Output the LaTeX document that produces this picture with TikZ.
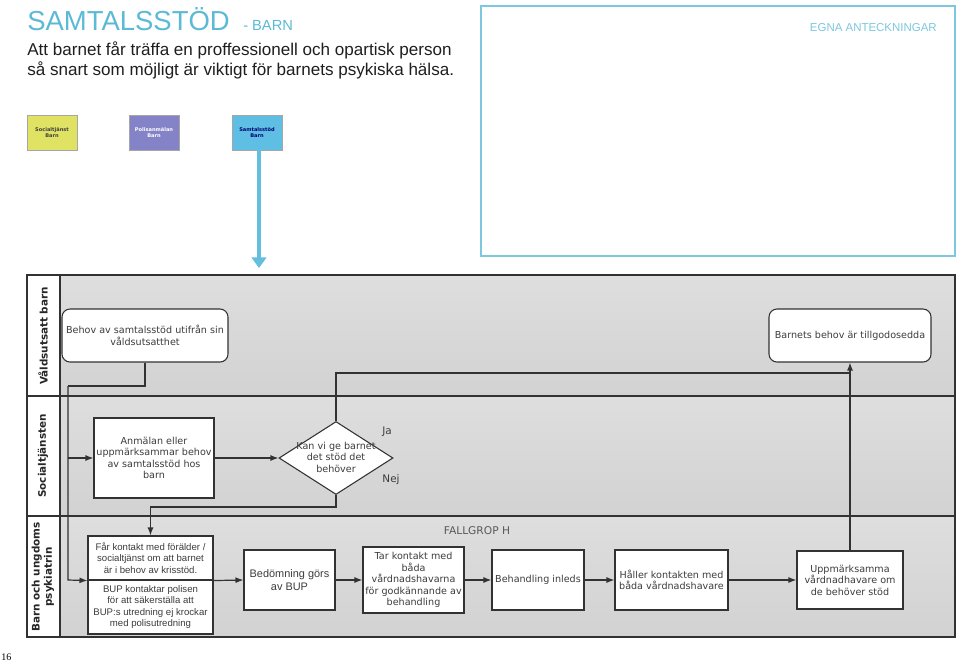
\documentclass[tikz,border=0pt]{standalone}
\usepackage{fontspec}
\setmainfont{Liberation Sans}
\newfontfamily\dv{DejaVu Sans}
\newfontfamily\pgnumfont{Liberation Serif}
\usetikzlibrary{arrows.meta,shapes.geometric,calc}
\definecolor{titleblue}{RGB}{92,186,214}
\definecolor{noteblue}{RGB}{125,200,222}
\definecolor{ylw}{RGB}{224,226,100}
\definecolor{prp}{RGB}{133,131,200}
\definecolor{lblue}{RGB}{95,190,228}
\definecolor{arrblue}{RGB}{100,190,222}
\definecolor{ln}{RGB}{50,50,50}
\definecolor{tx}{RGB}{60,60,60}
\definecolor{laneA}{RGB}{222,222,222}
\definecolor{laneB}{RGB}{246,246,246}
\definecolor{laneC}{RGB}{210,210,210}
\begin{document}
\begin{tikzpicture}[x=0.75pt,y=-0.75pt,
  pw/.style={minimum width=#1*0.75pt},
  ph/.style={minimum height=#1*0.75pt},
  dvf/.style={font=\dv\fontsize{7.2}{8.6}\selectfont},
  arf/.style={font=\fontsize{7.2}{8.6}\selectfont},
  bx/.style={draw=ln, fill=white, line width=0.8pt, inner sep=1pt, align=center, text=tx, dvf},
  rbx/.style={bx, rounded corners=6pt},
  colbox/.style={draw=gray!70, line width=0.5pt, pw=50, ph=35, inner sep=0pt, align=center, text=black!75,
     font=\dv\bfseries\fontsize{3.8}{4.5}\selectfont},
  lanelbl/.style={rotate=90, align=center, text=black!85, font=\dv\bfseries\fontsize{7.8}{9.2}\selectfont},
  laneshade/.style={top color=laneA, middle color=laneB, bottom color=laneC},
  conn/.style={draw=ln, line width=0.9pt},
  arr/.style={conn, -{Latex[length=6pt,width=4.5pt]}},
  lbl/.style={text=tx, font=\dv\fontsize{7.8}{9}\selectfont}
]
\useasboundingbox (0,0) rectangle (960,662);
\fill[white] (0,0) rectangle (960,662);

% header texts
\node[anchor=base west, inner sep=0pt, text=titleblue, font=\fontsize{20.6}{24}\selectfont] (title) at (27,30) {SAMTALSSTÖD};
\node[anchor=base west, inner sep=0pt, text=titleblue, font=\fontsize{11}{13}\selectfont] (sub) at (243,30) {- BARN};
\node[anchor=base west, inner sep=0pt, text=black!88, font=\fontsize{12.8}{15}\selectfont] (intro1) at (27,55)
  {Att barnet får träffa en proffessionell och opartisk person};
\node[anchor=base west, inner sep=0pt, text=black!88, font=\fontsize{12.8}{15}\selectfont] (intro2) at (27,75)
  {så snart som möjligt är viktigt för barnets psykiska hälsa.};

% notes box
\node[draw=noteblue, line width=1.2pt, pw=474, ph=250, inner sep=0pt] (notes) at (718,131) {};
\node[anchor=base east, inner sep=0pt, text=noteblue, font=\fontsize{8.6}{10}\selectfont] (notestitle) at (937,31) {EGNA ANTECKNINGAR};

% coloured boxes
\node[colbox, fill=ylw] (soc) at (52,132.5) {Socialtjänst\\Barn};
\node[colbox, fill=prp, text=white] (pol) at (154,132.5) {Polisanmälan\\Barn};
\node[colbox, fill=lblue, text=blue!45!black] (samt) at (257,132.5) {Samtalsstöd\\Barn};
\coordinate (blueend) at (259,268);
\draw[draw=arrblue, line width=2.4pt, -{Triangle[length=8pt,width=11pt]}] (samt.south -| blueend) -- (blueend);

% swimlanes
\shade[laneshade] (60,275) rectangle (955,396);
\shade[laneshade] (60,396) rectangle (955,516);
\shade[laneshade] (60,516) rectangle (955,637);
\fill[white] (27,275) rectangle (60,637);
\draw[ln, line width=1pt] (27,275) rectangle (955,637);
\draw[ln, line width=1pt] (60,275) -- (60,637);
\draw[ln, line width=1pt] (27,396) -- (955,396);
\draw[ln, line width=1pt] (27,516) -- (955,516);
\node[lanelbl] (lane1) at (43,336) {Våldsutsatt barn};
\node[lanelbl] (lane2) at (43,456) {Socialtjänsten};
\node[lanelbl] (lane3) at (43,577) {Barn och ungdoms\\psykiatrin};

% nodes
\node[rbx, pw=166, ph=53] (behov) at (145,335.5) {Behov av samtalsstöd utifrån sin\\våldsutsatthet};
\node[rbx, pw=162, ph=53] (barnets) at (850,335.5) {Barnets behov är tillgodosedda};
\node[bx, pw=120, ph=80] (anmalan) at (154,458) {Anmälan eller\\uppmärksammar behov\\av samtalsstöd hos\\barn};
\node[diamond, draw=ln, fill=white, line width=0.8pt, inner sep=0pt, pw=114, ph=73] (dia) at (336,458) {};
\node[align=center, text=tx, dvf, inner sep=0pt] (diatext) at (336,457) {Kan vi ge barnet\\det stöd det\\behöver};
\node[lbl] (ja) at (387,432) {Ja};
\node[lbl] (nej) at (391,480) {Nej};
\node[text=black!65, font=\dv\fontsize{8}{9}\selectfont] (fallgrop) at (477,531) {FALLGROP H};

\node[bx, arf, pw=125, ph=44] (fktop) at (150.5,558) {Får kontakt med förälder /\\socialtjänst om att barnet\\är i behov av krisstöd.};
\node[bx, arf, pw=125, ph=54] (fkbot) at (150.5,607) {BUP kontaktar polisen\\för att säkerställa att\\BUP:s utredning ej krockar\\med polisutredning};
\node[bx, font=\fontsize{8.2}{9.6}\selectfont, pw=91, ph=60] (bedom) at (289.5,580) {Bedömning görs\\av BUP};
\node[bx, pw=101, ph=66] (tar) at (413.5,580) {Tar kontakt med\\båda\\vårdnadshavarna\\för godkännande av\\behandling};
\node[bx, pw=92, ph=60] (behand) at (538,580) {Behandling inleds};
\node[bx, pw=113, ph=60] (haller) at (671.5,580) {Håller kontakten med\\båda vårdnadshavare};
\node[bx, pw=106, ph=58] (uppm) at (850,580) {Uppmärksamma\\vårdnadhavare om\\de behöver stöd};

% connectors
\coordinate (j1) at (68,386);
\coordinate (j2) at (68,458);
\coordinate (j3) at (68,580);
\coordinate (j4) at (850,373);
\draw[conn] (behov.south) |- (j1);
\draw[arr] (j1) -- (j3) -- (fktop.south west);
\draw[arr] (j2) -- (anmalan.west);
\draw[arr] (anmalan.east) -- (dia.west);
\draw[conn] (dia.north) |- (j4);
\draw[arr] (uppm.north) -- (barnets.south);
\draw[arr] (dia.south) -- ++(0,12) -| (fktop.north);
\draw[arr] (fktop.south east) -- (bedom.west);
\draw[arr] (bedom.east) -- (tar.west);
\draw[arr] (tar.east) -- (behand.west);
\draw[arr] (behand.east) -- (haller.west);
\draw[arr] (haller.east) -- (uppm.west);

% page number
\node[anchor=base west, inner sep=0pt, font=\pgnumfont\fontsize{7.5}{9}\selectfont] (pg) at (1,660) {16};
\end{tikzpicture}
\end{document}
